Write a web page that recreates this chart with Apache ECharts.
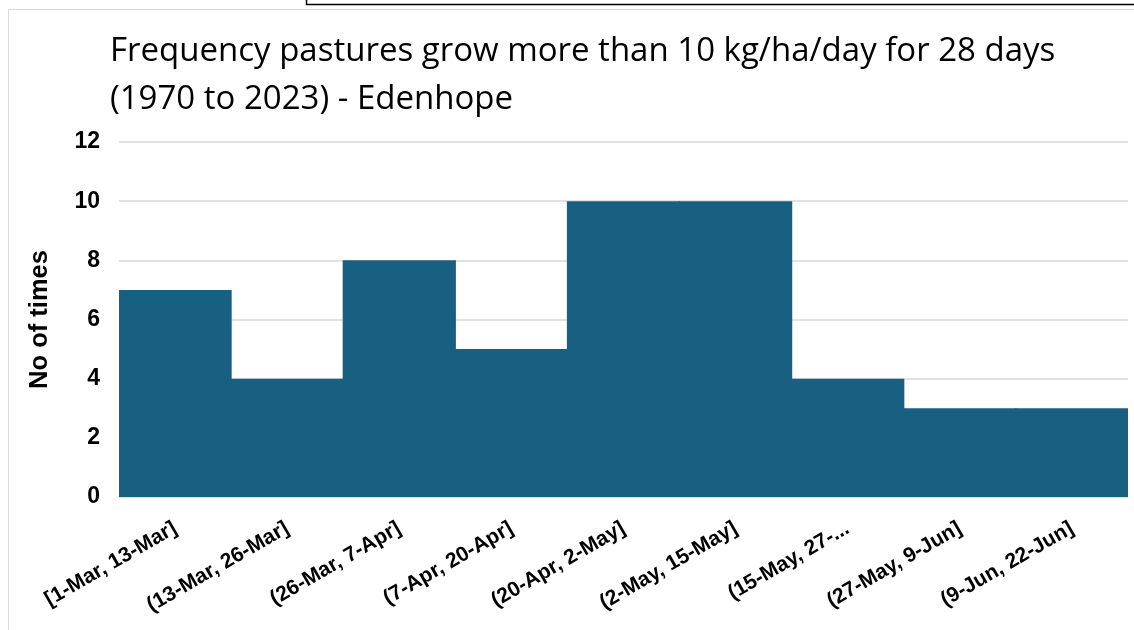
<!DOCTYPE html>
<html>
<head>
<meta charset="utf-8">
<script src="https://cdn.jsdelivr.net/npm/echarts@6/dist/echarts.min.js"></script>
<style>
  html, body { margin: 0; padding: 0; background: #fff; }
  #chart { width: 1134px; height: 630px; }
</style>
</head>
<body>
<div id="chart"></div>
<script>
var categories = ['[1-Mar, 13-Mar]', '(13-Mar, 26-Mar]', '(26-Mar, 7-Apr]', '(7-Apr, 20-Apr]',
  '(20-Apr, 2-May]', '(2-May, 15-May]', '(15-May, 27-...', '(27-May, 9-Jun]', '(9-Jun, 22-Jun]'];
var counts = [7, 4, 8, 5, 10, 10, 4, 3, 3];
var yTicks = { min: 0, max: 12, step: 2 };

var chart = echarts.init(document.getElementById('chart'));
chart.setOption({
  animation: false,
  title: {
    text: 'Frequency pastures grow more than 10 kg/ha/day for 28 days\n(1970 to 2023) - Edenhope',
    left: 105,
    top: 23,
    textStyle: {
      fontFamily: 'Open Sans',
      fontWeight: 'normal',
      fontSize: 33,
      lineHeight: 48,
      color: '#000'
    }
  },
  graphic: [
    // outer chart border
    { type: 'rect', silent: true, shape: { x: 8.5, y: 9.5, width: 1200, height: 700 },
      style: { fill: null, stroke: '#d9d9d9', lineWidth: 1 } },
    // bit of a box above the chart
    { type: 'rect', silent: true, shape: { x: 306.5, y: -20, width: 900, height: 24.5 },
      style: { fill: null, stroke: '#000', lineWidth: 1.5 } }
  ],
  grid: { left: 119, right: 6, top: 142, bottom: 133 },
  xAxis: {
    type: 'category',
    data: categories,
    axisLine: { lineStyle: { color: '#d9d9d9', width: 1.5 } },
    axisTick: { show: false },
    axisLabel: {
      interval: 0,
      rotate: 30,
      margin: 30,
      fontFamily: 'Liberation Sans',
      fontWeight: 'bold',
      fontSize: 21,
      color: '#000'
    }
  },
  yAxis: {
    type: 'value',
    min: yTicks.min,
    max: yTicks.max,
    interval: yTicks.step,
    name: 'No of times',
    nameLocation: 'middle',
    nameGap: 66,
    nameTextStyle: {
      fontFamily: 'Liberation Sans',
      fontWeight: 'bold',
      fontSize: 25.5,
      color: '#000'
    },
    axisLine: { show: false },
    axisTick: { show: false },
    splitLine: { lineStyle: { color: '#d9d9d9', width: 1.5 } },
    axisLabel: {
      margin: 19,
      fontFamily: 'Liberation Sans',
      fontWeight: 'bold',
      fontSize: 23,
      color: '#000'
    }
  },
  series: [{
    type: 'bar',
    data: counts,
    barWidth: '101%',
    itemStyle: { color: '#186082' }
  }]
});
</script>
</body>
</html>
